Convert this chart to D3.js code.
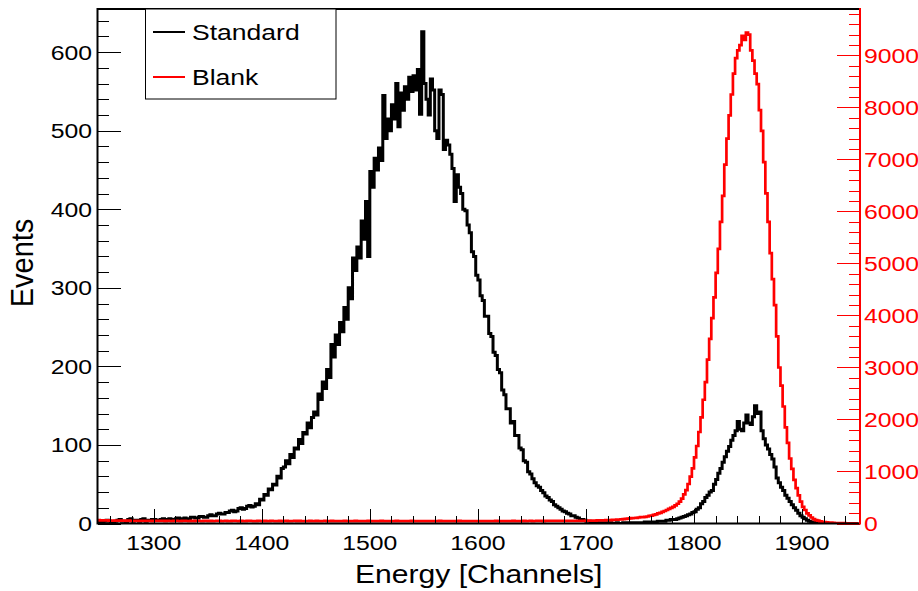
<!doctype html>
<html>
  <head>
    <script src="https://cdn.jsdelivr.net/npm/d3@7/dist/d3.min.js"></script>
    <style>
      body { margin: 0; background: #fff; }
      svg { display: block; font-family: "Liberation Sans", Arial, Helvetica, sans-serif; }
      .tick line { shape-rendering: crispEdges; }
    </style>
  </head>
  <body>
    <svg width="918" height="591"></svg>
    <script>
      // histogram binning (channels)
      var binStart = 1248;
      var binWidth = 2;

      // Standard (left axis, events per bin), bins 1248 .. 1952
      var standardCounts = [
        3,2,2,3,4,3,2,1,3,4,5,3,3,2,5,6,3,4,4,3,5,6,3,4,4,5,5,4,4,5,6,5,5,6,4,5,6,7,5,6,7,6,6,8,8,7,7,9,9,8,
        8,10,11,10,10,12,13,12,12,14,14,16,17,15,16,19,20,18,19,22,23,21,22,25,24,31,30,37,36,44,43,50,49,60,58,70,72,80,76,88,84,96,95,107,102,116,114,128,122,135,
        142,138,165,158,180,172,196,186,228,212,240,228,256,244,275,260,300,286,338,322,352,338,385,362,410,340,448,428,465,450,478,462,545,490,515,500,533,515,560,505,548,526,556,540,568,550,570,552,578,521,
        626,560,540,520,566,552,500,490,552,546,476,488,482,470,452,410,444,428,420,400,398,380,370,346,340,316,310,290,284,264,264,242,238,218,214,196,192,170,164,146,146,128,130,112,112,96,94,80,78,66,
        63,57,52,48,46,42,39,35,33,30,28,24,22,20,18,16,15,13,12,10,10,8,7,5,5,4,3,3,2,2,2,1,1,1,1,0,1,1,0,0,1,0,0,1,1,0,1,1,0,1,
        1,1,1,2,2,1,2,2,2,3,3,3,3,4,4,5,5,5,6,7,8,9,10,11,12,14,15,18,20,25,28,33,36,40,42,50,56,64,70,78,85,92,98,106,112,118,130,120,118,128,
        138,128,126,136,150,140,142,118,108,100,95,88,82,72,58,52,46,42,36,32,28,24,20,17,13,10,8,6,4,3,2,2,1,1,1,0,0,0,0,0,0,0,0,0,0,0,0,0,0,0,
        0,0
      ];

      // Blank (right axis), same bins
      var blankCounts = [
        63,60,58,61,59,56,58,55,57,54,56,53,55,52,54,51,53,50,52,49,
        51,50,48,52,49,47,51,48,50,52,49,47,50,48,46,50,52,48,47,49,
        51,48,46,50,47,49,52,48,45,49,51,47,50,46,48,51,49,46,48,50,
        47,45,49,51,48,46,50,47,45,49,52,48,46,47,50,48,45,49,47,46,
        50,48,45,47,49,46,48,51,47,45,48,50,46,49,47,44,48,46,50,47,
        45,49,47,44,48,50,46,47,49,45,48,46,44,47,49,46,48,45,47,50,
        46,44,48,47,45,49,46,48,44,47,45,49,47,46,44,48,46,45,49,47,
        44,46,48,45,47,49,45,44,47,46,48,45,47,44,46,48,45,47,49,46,
        44,47,45,48,46,44,47,49,45,46,48,44,46,47,45,48,46,44,47,45,
        46,48,45,47,49,46,44,47,45,48,46,47,49,45,47,48,46,49,47,48,
        49,47,48,50,48,49,47,50,49,48,50,49,51,49,50,48,51,50,49,51,
        50,49,
        50,51,52,52,54,56,55,56,57,59,60,61,62,63,64,66,68,72,74,77,
        80,84,88,92,97,103,106,110,115,121,123,128,135,145,153,167,177,193,205,225,
        240,260,280,300,320,350,380,420,480,560,640,760,900,1060,1270,1490,1760,2040,2380,2720,
        3150,3550,3950,4350,4820,5280,5800,6300,6900,7400,7850,8250,8650,8950,9100,9200,9380,9300,9440,9400,
        9100,8900,8650,8450,7950,7550,6950,6350,5800,5200,4700,4200,3600,3000,2650,2250,1850,1550,1250,1050,
        840,680,540,420,320,260,195,155,115,85,66,54,42,34,27,21,17,15,12,10,
        9,7,6,6,5,5,4,4,3,3
      ];

      var xMajorTicks = [1300, 1400, 1500, 1600, 1700, 1800, 1900];
      var leftMajorTicks = [0, 100, 200, 300, 400, 500, 600];
      var rightMajorTicks = [0, 1000, 2000, 3000, 4000, 5000, 6000, 7000, 8000, 9000];
      var legendLabels = ["Standard", "Blank"];
      var seriesColors = ["#000000", "#ff0000"];

      var frame = {left: 97.5, right: 860, top: 9, bottom: 523.5};
      var stretch = 1.18;

      var x = d3.scaleLinear().domain([1248, 1953.6]).range([frame.left, frame.right]);
      var yLeft = d3.scaleLinear().domain([0, 655]).range([frame.bottom, frame.top]);
      var yRight = d3.scaleLinear().domain([0, 9894]).range([frame.bottom, frame.top]);

      var svg = d3.select("svg");

      svg.append("defs").append("clipPath")
          .attr("id", "plotClip")
        .append("rect")
          .attr("x", frame.left)
          .attr("y", frame.top)
          .attr("width", frame.right - frame.left)
          .attr("height", frame.bottom - frame.top);

      function stepPoints(counts) {
        var pts = [];
        counts.forEach((v, i) => {
          var lo = binStart + i * binWidth;
          pts.push([lo, v], [lo + binWidth, v]);
        });
        return pts;
      }

      function drawHist(counts, yScale, color, width) {
        var line = d3.line()
          .x(d => x(d[0]))
          .y(d => yScale(d[1]));
        svg.append("path")
            .datum(stepPoints(counts))
            .attr("clip-path", "url(#plotClip)")
            .attr("d", line)
            .style("fill", "none")
            .style("stroke", color)
            .style("stroke-width", width)
            .style("stroke-linejoin", "miter");
      }

      drawHist(standardCounts, yLeft, seriesColors[0], 3);
      drawHist(blankCounts, yRight, seriesColors[1], 2.7);

      // ticks (ROOT style, pointing into the frame)
      function tickAxis(axis, transform, color) {
        var g = svg.append("g")
            .attr("transform", transform)
            .call(axis);
        g.select(".domain").remove();
        g.selectAll(".tick line").style("stroke", color);
        g.selectAll("text").remove();
      }

      var xMinor = d3.range(1260, 1953, 20).filter(v => v % 100 !== 0);
      tickAxis(d3.axisBottom(x).tickValues(xMinor).tickSize(-7.5).tickSizeOuter(0),
        `translate(0,${frame.bottom})`, "#000");
      tickAxis(d3.axisBottom(x).tickValues(xMajorTicks).tickSize(-15).tickSizeOuter(0),
        `translate(0,${frame.bottom})`, "#000");

      var leftMinor = d3.range(20, 655, 20).filter(v => v % 100 !== 0);
      tickAxis(d3.axisLeft(yLeft).tickValues(leftMinor).tickSize(-11.5).tickSizeOuter(0),
        `translate(${frame.left},0)`, "#000");
      tickAxis(d3.axisLeft(yLeft).tickValues(leftMajorTicks).tickSize(-23).tickSizeOuter(0),
        `translate(${frame.left},0)`, "#000");

      var rightMinor = d3.range(200, 9894, 200).filter(v => v % 1000 !== 0);
      tickAxis(d3.axisRight(yRight).tickValues(rightMinor).tickSize(-11.5).tickSizeOuter(0),
        `translate(${frame.right},0)`, "#ff0000");
      tickAxis(d3.axisRight(yRight).tickValues(rightMajorTicks).tickSize(-23).tickSizeOuter(0),
        `translate(${frame.right},0)`, "#ff0000");

      // frame
      svg.append("path")
          .attr("d", `M${frame.right},${frame.top}H${frame.left}V${frame.bottom}H${frame.right}`)
          .style("fill", "none")
          .style("stroke", "#000")
          .style("stroke-width", 2);
      svg.append("line")
          .attr("x1", frame.right).attr("x2", frame.right)
          .attr("y1", frame.top - 1).attr("y2", frame.bottom + 1)
          .style("stroke", "#ff0000")
          .style("stroke-width", 2);

      // text helper: the picture is slightly stretched horizontally
      function label(px, py, str, size, anchor, color) {
        return svg.append("text")
            .attr("transform", `translate(${px},${py}) scale(${stretch},1)`)
            .attr("text-anchor", anchor)
            .style("font-size", size + "px")
            .style("fill", color)
            .text(str);
      }

      xMajorTicks.forEach(v => label(x(v), 550, v, 21, "middle", "#000"));
      leftMajorTicks.forEach(v => label(92, yLeft(v) + 7.5, v, 21, "end", "#000"));
      rightMajorTicks.forEach(v => label(864, yRight(v) + 7.5, v, 21, "start", "#ff0000"));

      label((frame.left + frame.right) / 2, 583, "Energy [Channels]", 25.5, "middle", "#000");

      svg.append("text")
          .attr("transform", "translate(33,263) rotate(-90) scale(1,1.1)")
          .attr("text-anchor", "middle")
          .style("font-size", "29px")
          .style("fill", "#000")
          .text("Events");

      // legend
      var legend = svg.append("g");
      legend.append("rect")
          .attr("x", 145.5)
          .attr("y", frame.top)
          .attr("width", 190.5)
          .attr("height", 90)
          .style("fill", "#fff")
          .style("stroke", "#000")
          .style("stroke-width", 1);
      legendLabels.forEach((name, i) => {
        var ly = 32 + i * 45;
        legend.append("line")
            .attr("x1", 153).attr("x2", 185)
            .attr("y1", ly).attr("y2", ly)
            .style("stroke", seriesColors[i])
            .style("stroke-width", 2);
        label(192, ly + 7.8, name, 22.5, "start", "#000");
      });
    </script>
  </body>
</html>
